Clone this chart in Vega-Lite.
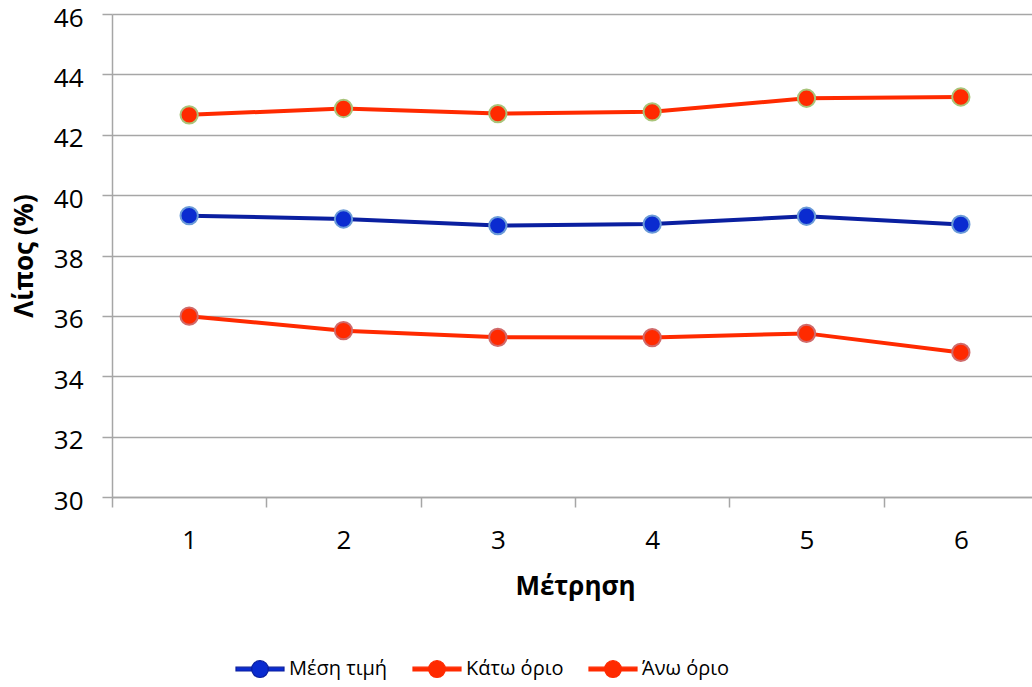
{
  "$schema": "https://vega.github.io/schema/vega-lite/v6.json",
  "autosize": {"type": "none"},
  "padding": {"left": 112, "top": 14, "right": 0, "bottom": 190},
  "width": 920,
  "height": 483,
  "background": "white",
  "config": {
    "font": "Open Sans",
    "view": {"stroke": null},
    "axis": {
      "domainColor": "#a6a6a6",
      "domainWidth": 1.5,
      "tickColor": "#a6a6a6",
      "tickWidth": 1.5,
      "tickSize": 10,
      "gridColor": "#a6a6a6",
      "gridWidth": 1.5,
      "labelColor": "#000000",
      "labelFont": "Open Sans",
      "labelFontSize": 26,
      "titleColor": "#000000",
      "titleFont": "Open Sans",
      "titleFontWeight": "bold",
      "titleFontSize": 26
    }
  },
  "data": {
    "values": [
      {"m": 1, "series": "Μέση τιμή", "v": 39.32},
      {"m": 2, "series": "Μέση τιμή", "v": 39.21},
      {"m": 3, "series": "Μέση τιμή", "v": 38.99},
      {"m": 4, "series": "Μέση τιμή", "v": 39.04},
      {"m": 5, "series": "Μέση τιμή", "v": 39.30},
      {"m": 6, "series": "Μέση τιμή", "v": 39.03},
      {"m": 1, "series": "Κάτω όριο", "v": 35.99},
      {"m": 2, "series": "Κάτω όριο", "v": 35.51},
      {"m": 3, "series": "Κάτω όριο", "v": 35.29},
      {"m": 4, "series": "Κάτω όριο", "v": 35.28},
      {"m": 5, "series": "Κάτω όριο", "v": 35.42},
      {"m": 6, "series": "Κάτω όριο", "v": 34.79},
      {"m": 1, "series": "Άνω όριο", "v": 42.66},
      {"m": 2, "series": "Άνω όριο", "v": 42.87},
      {"m": 3, "series": "Άνω όριο", "v": 42.70},
      {"m": 4, "series": "Άνω όριο", "v": 42.76},
      {"m": 5, "series": "Άνω όριο", "v": 43.21},
      {"m": 6, "series": "Άνω όριο", "v": 43.25}
    ]
  },
  "encoding": {
    "x": {
      "field": "m",
      "type": "ordinal",
      "title": "Μέτρηση",
      "scale": {"type": "band", "range": [0, 926], "paddingInner": 0, "paddingOuter": 0},
      "axis": {"labelAngle": 0, "tickBand": "extent", "grid": false, "labelPadding": 20, "titlePadding": 20}
    },
    "y": {
      "field": "v",
      "type": "quantitative",
      "title": "Λίπος (%)",
      "scale": {"domain": [30, 46], "nice": false, "zero": false},
      "axis": {"values": [30, 32, 34, 36, 38, 40, 42, 44, 46], "labelPadding": 19, "labelOffset": 4, "titlePadding": 16}
    }
  },
  "layer": [
    {
      "mark": {"type": "line", "strokeWidth": 4},
      "encoding": {
        "color": {
          "field": "series",
          "type": "nominal",
          "sort": null,
          "scale": {"domain": ["Μέση τιμή", "Κάτω όριο", "Άνω όριο"], "range": ["#0a1fa0", "#ff2a00", "#ff2a00"]},
          "legend": {
            "title": null,
            "orient": "none",
            "direction": "horizontal",
            "legendX": 123,
            "legendY": 630,
            "symbolType": "M-1,-0.08H-0.34V0.08H-1Z M0.34,-0.08H1V0.08H0.34Z M0.35,0A0.35,0.35,0,1,1,-0.35,0A0.35,0.35,0,1,1,0.35,0Z",
            "symbolSize": 2304,
            "labelFont": "Open Sans",
            "labelFontSize": 20,
            "labelColor": "#000000",
            "labelOffset": 4,
            "columnPadding": 22,
            "encode": {
              "symbols": {
                "update": {
                  "fill": {"signal": "datum.value === 'Μέση τιμή' ? '#0a2bd0' : '#ff2a00'"},
                  "stroke": {"signal": "datum.value === 'Μέση τιμή' ? '#6b9bd8' : datum.value === 'Κάτω όριο' ? '#d06a6a' : '#a9c47a'"},
                  "strokeWidth": {"value": 1.2},
                  "opacity": {"value": 1}
                }
              }
            }
          }
        }
      }
    },
    {
      "mark": {"type": "point", "filled": true, "size": 300, "strokeWidth": 2, "opacity": 1},
      "encoding": {
        "fill": {
          "field": "series",
          "type": "nominal",
          "scale": {"domain": ["Μέση τιμή", "Κάτω όριο", "Άνω όριο"], "range": ["#0a2bd0", "#ff2a00", "#ff2a00"]},
          "legend": null
        },
        "stroke": {
          "field": "series",
          "type": "nominal",
          "scale": {"domain": ["Μέση τιμή", "Κάτω όριο", "Άνω όριο"], "range": ["#6b9bd8", "#d06a6a", "#a9c47a"]},
          "legend": null
        }
      }
    }
  ]
}
